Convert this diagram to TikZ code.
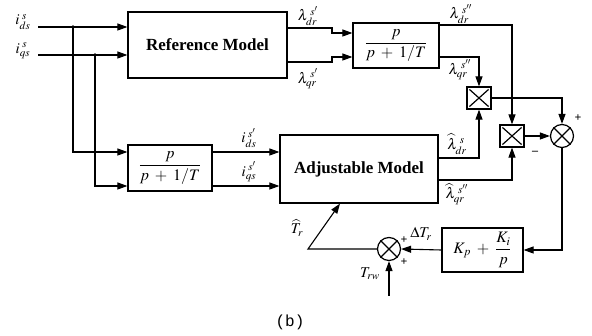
\documentclass[tikz,border=0pt]{standalone}
\usepackage{mathptmx}
\usepackage{fontspec}
\setmainfont{Liberation Serif}
\setmonofont{Liberation Mono}
\usetikzlibrary{arrows.meta}
\begin{document}
\begin{tikzpicture}[x=1pt,y=-1pt,
  blk/.style={draw, line width=1.2pt, inner sep=0pt, font=\fontsize{17}{20}\selectfont\bfseries},
  tf/.style={blk, font=\fontsize{16}{19}\selectfont},
  mul/.style={draw, line width=1.2pt, inner sep=0pt, minimum width=24pt, minimum height=22pt},
  sumc/.style={draw, line width=1.2pt, circle, inner sep=0pt, minimum size=23pt},
  wire/.style={line width=1.1pt},
  arr/.style={wire, -{Triangle[length=10pt,width=7pt]}},
  lbl/.style={inner sep=0pt, font=\fontsize{15}{17}\selectfont},
  sgn/.style={inner sep=0pt, font=\fontsize{12}{14}\selectfont\bfseries},
  dot/.style={circle, fill, inner sep=0pt, minimum size=3.5pt}
]
\useasboundingbox (0,0) rectangle (592,336);

% blocks
\node[blk, minimum width=159pt, minimum height=66pt] (ref) at (207.5,45) {Reference Model};
\node[tf, minimum width=86pt, minimum height=45pt] (f1) at (396,45.5) {$\displaystyle\frac{p}{p\;+\;1/T}$};
\node[tf, minimum width=84pt, minimum height=46pt] (f2) at (170,168) {$\displaystyle\frac{p}{p\;+\;1/T}$};
\node[blk, minimum width=158pt, minimum height=68pt] (adj) at (359,169) {Adjustable Model};
\node[tf, minimum width=81pt, minimum height=44pt] (kp) at (482.5,250) {$\displaystyle K_p\;+\;\frac{K_i}{p}$};
\node[mul] (m1) at (479,98) {};
\node[mul] (m2) at (512,136) {};
\node[sumc] (s1) at (562,136) {};
\node[sumc] (s2) at (389,249) {};
\foreach \m in {m1,m2}{
  \draw[line width=1.2pt] ([shift={(3pt,-3pt)}]\m.north west) -- ([shift={(-3pt,3pt)}]\m.south east)
        ([shift={(-3pt,-3pt)}]\m.north east) -- ([shift={(3pt,3pt)}]\m.south west);}
\foreach \s in {s1,s2}{
  \draw[line width=1.2pt] (\s.45) -- (\s.225) (\s.135) -- (\s.315);}

% coordinates
\coordinate (inA) at (38,27);
\coordinate (inB) at (38,55);
\coordinate (jA) at (73,27);
\coordinate (jB) at (95,55);
\coordinate (trw) at (389,296);
\coordinate (bend) at (308,249);
\coordinate (tin) at (340,203.6);

% inputs
\draw[arr] (inA) -- (ref.west |- inA);
\draw[arr] (inB) -- (ref.west |- inB);
\node[dot] at (jA) {};
\node[dot] at (jB) {};
\draw[arr] (jA) -- (73,152) -- (f2.west |- 0,152);
\draw[arr] (jB) -- (95,186) -- (f2.west |- 0,186);

% lower filter to adjustable model
\draw[arr] (f2.east |- 0,152) -- (adj.west |- 0,152);
\draw[arr] (f2.east |- 0,186) -- (adj.west |- 0,186);

% reference model to upper filter
\draw[arr] (ref.east |- 0,28) -- (332,28) -- (332,33) -- (f1.west |- 0,33);
\draw[arr] (ref.east |- 0,62) -- (332,62) -- (332,57) -- (f1.west |- 0,57);

% upper filter outputs
\draw[arr] (f1.east |- 0,25) -- (m2.north |- 0,25) -- (m2.north);
\draw[arr] (f1.east |- 0,57) -- (m1.north |- 0,57) -- (m1.north);

% adjustable model outputs
\draw[arr] (adj.east |- 0,158) -- (m1.south |- 0,158) -- (m1.south);
\draw[arr] (adj.east |- 0,180) -- (m2.south |- 0,180) -- (m2.south);

% multipliers to summing junction
\draw[arr] (m1.east) -- (s1.north |- m1.east) -- (s1.north);
\draw[arr] (m2.east) -- (s1.west);

% error to PI
\draw[arr] (s1.south) -- (s1.south |- kp.east) -- (kp.east);
\draw[arr] (kp.west) -- (s2.east);
\draw[arr] (trw) -- (s2.south);
\draw[arr] (s2.west) -- (bend) -- (tin);

% labels
\node[lbl] at (23,22) {$i_{ds}^{\;s}$};
\node[lbl] at (23,51) {$i_{qs}^{\;s}$};
\node[lbl] at (308,16) {$\lambda_{dr}^{\;s'}$};
\node[lbl] at (308,79) {$\lambda_{qr}^{\;s'}$};
\node[lbl] at (461,14) {$\lambda_{dr}^{\;s''}$};
\node[lbl] at (460,70) {$\lambda_{qr}^{\;s''}$};
\node[lbl] at (457,144) {$\widehat{\lambda}_{dr}^{\;s}$};
\node[lbl] at (457,194) {$\widehat{\lambda}_{qr}^{\;s''}$};
\node[lbl] at (249,138) {$i_{ds}^{\;s'}$};
\node[lbl] at (249,172) {$i_{qs}^{\;s'}$};
\node[lbl] at (297,228) {$\widehat{T}_r$};
\node[lbl] at (421,234) {$\Delta T_r$};
\node[lbl] at (370,274) {$T_{rw}$};
\node[sgn] at (404,240) {+};
\node[sgn] at (404,262) {+};
\node[sgn] at (578,118) {+};
\node[sgn] at (535,153) {--};
\node[inner sep=0pt, font=\fontsize{16}{18}\selectfont\ttfamily] (cap) at (290,322) {(b)};
\end{tikzpicture}
\end{document}
